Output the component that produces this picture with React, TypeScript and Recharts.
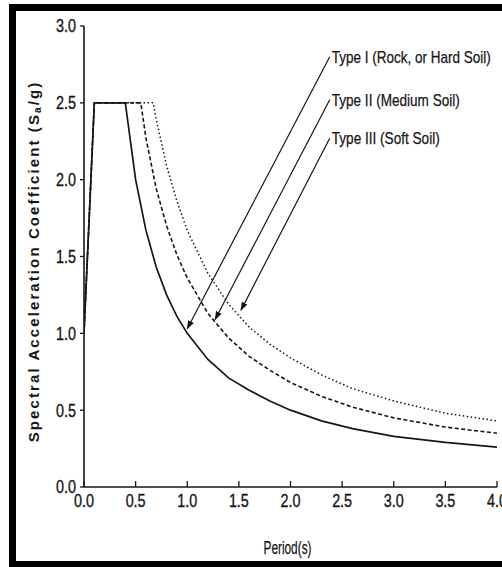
import React from 'react';
import { LineChart, Line, XAxis, YAxis, ReferenceLine, ReferenceDot } from 'recharts';

// Type I (Rock, or Hard Soil)
const typeIPeriod = [0, 0.1, 0.4, 0.5, 0.6, 0.7, 0.8, 0.9, 1.0, 1.2, 1.4, 1.6, 1.8, 2.0, 2.3, 2.6, 3.0, 3.5, 4.0];
const typeIValue = [1.0, 2.5, 2.5, 2.0, 1.67, 1.43, 1.25, 1.11, 1.0, 0.83, 0.71, 0.63, 0.56, 0.5, 0.43, 0.38, 0.33, 0.29, 0.26];
// Type II (Medium Soil)
const typeIIPeriod = [0, 0.1, 0.55, 0.6, 0.7, 0.8, 0.9, 1.0, 1.2, 1.4, 1.6, 1.8, 2.0, 2.3, 2.6, 3.0, 3.5, 4.0];
const typeIIValue = [1.0, 2.5, 2.5, 2.27, 1.94, 1.7, 1.51, 1.36, 1.13, 0.97, 0.85, 0.76, 0.68, 0.59, 0.52, 0.45, 0.39, 0.35];
// Type III (Soft Soil)
const typeIIIPeriod = [0, 0.1, 0.67, 0.7, 0.8, 0.9, 1.0, 1.2, 1.4, 1.6, 1.8, 2.0, 2.3, 2.6, 3.0, 3.5, 4.0];
const typeIIIValue = [1.0, 2.5, 2.5, 2.39, 2.09, 1.86, 1.67, 1.39, 1.19, 1.04, 0.93, 0.84, 0.73, 0.64, 0.56, 0.48, 0.43];

const xTicks = [0, 0.5, 1.0, 1.5, 2.0, 2.5, 3.0, 3.5, 4.0];
const yTicks = [0, 0.5, 1.0, 1.5, 2.0, 2.5, 3.0];

// Annotation labels and arrows (data coordinates)
const labelTexts = ['Type I  (Rock, or Hard Soil)', 'Type II (Medium Soil)', 'Type III (Soft Soil)'];
const labelX = [2.38, 2.38, 2.38];
const labelY = [2.8, 2.52, 2.27];
const arrowTipX = [1.0, 1.27, 1.52];
const arrowTipY = [1.03, 1.09, 1.15];

const toPts = (xs: number[], ys: number[]) => xs.map((x, i) => ({ t: x, v: ys[i] }));
const dataI = toPts(typeIPeriod, typeIValue);
const dataII = toPts(typeIIPeriod, typeIIValue);
const dataIII = toPts(typeIIIPeriod, typeIIIValue);

const FONT = '"Liberation Sans", Arial, sans-serif';
const INK = '#161616';
// condensed widths (styling) for the narrow typeface of the original
const labelWidths = [159, 128, 108];

const XTick = (props: any) => {
  const { x, y, payload } = props;
  return (
    <text x={x} y={y} dy="0.72em" textAnchor="middle" fontFamily={FONT} fontSize={18} fill={INK} stroke={INK} strokeWidth={0.35} textLength={20} lengthAdjust="spacingAndGlyphs">
      {Number(payload.value).toFixed(1)}
    </text>
  );
};

const YTick = (props: any) => {
  const { x, y, payload } = props;
  return (
    <text x={x - 20} y={y} dy="0.36em" textAnchor="start" fontFamily={FONT} fontSize={18} fill={INK} stroke={INK} strokeWidth={0.35} textLength={20} lengthAdjust="spacingAndGlyphs">
      {Number(payload.value).toFixed(1)}
    </text>
  );
};

const YLabel = (props: any) => {
  const vb = props.viewBox || {};
  const x = vb.x + 9;
  const y = vb.y + vb.height / 2 + 5;
  return (
    <text
      x={x}
      y={y}
      transform={`rotate(-90, ${x}, ${y})`}
      textAnchor="middle"
      dominantBaseline="central"
      fontFamily={FONT}
      fontWeight="bold"
      fontSize={15}
      letterSpacing={2.1}
      fill={INK}
    >
      Spectral Acceleration Coefficient (S
      <tspan fontSize={10} dy={4}>a</tspan>
      <tspan dy={-4}>/g)</tspan>
    </text>
  );
};

const XLabel = (props: any) => {
  const vb = props.viewBox || {};
  const x = vb.x + vb.width / 2 - 27;
  const y = 548;
  return (
    <text x={x} y={y} dominantBaseline="central" fontFamily={FONT} fontSize={18} fill={INK} stroke={INK} strokeWidth={0.25} textLength={48} lengthAdjust="spacingAndGlyphs">
      Period(s)
    </text>
  );
};

const makeNoteLabel = (i: number) => (p: any) => {
  const vb = p.viewBox || {};
  return (
    <text x={vb.x + 2} y={vb.y} dy="0.36em" fontFamily={FONT} fontSize={17} fill={INK} stroke={INK} strokeWidth={0.25} textLength={labelWidths[i]} lengthAdjust="spacingAndGlyphs">
      {labelTexts[i]}
    </text>
  );
};

export default function App() {
  return (
    <div style={{ position: 'fixed', left: 0, top: 0, width: 502, height: 567, overflow: 'hidden', background: '#fff' }}>
      <div style={{ position: 'absolute', left: 9, top: 4, width: 7, height: 563, background: '#000' }} />
      <div style={{ position: 'absolute', left: 9, top: 4, width: 493, height: 7, background: '#000' }} />
      <div style={{ position: 'absolute', left: 9, top: 561, width: 493, height: 6, background: '#000' }} />
      <div style={{ position: 'absolute', left: 0, top: 0 }}>
        <LineChart width={502} height={567} margin={{ top: 26, right: 5, bottom: 50, left: 24 }}>
          <defs>
            <marker id="arrowHead" viewBox="0 0 10 10" refX="9" refY="5" markerWidth="9" markerHeight="9" markerUnits="userSpaceOnUse" orient="auto">
              <path d="M0,1.5 L10,5 L0,8.5 Z" fill={INK} />
            </marker>
          </defs>
          <XAxis
            xAxisId="bottom"
            dataKey="t"
            type="number"
            domain={[0, 4]}
            ticks={xTicks}
            allowDataOverflow
            height={30}
            tickSize={-6}
            tickMargin={13}
            axisLine={{ stroke: INK, strokeWidth: 1.6 }}
            tickLine={{ stroke: INK, strokeWidth: 1.3 }}
            tick={<XTick />}
            label={<XLabel />}
          />
          <XAxis
            xAxisId="top"
            orientation="top"
            dataKey="t"
            type="number"
            domain={[0, 4]}
            ticks={xTicks}
            height={0}
            mirror
            tickSize={6}
            axisLine={{ stroke: INK, strokeWidth: 1.6 }}
            tickLine={{ stroke: INK, strokeWidth: 1.3 }}
            tick={{ fill: 'none', fontSize: 1 }}
          />
          <YAxis
            yAxisId="left"
            type="number"
            domain={[0, 3]}
            ticks={yTicks}
            width={60}
            tickSize={4}
            tickMargin={4}
            axisLine={{ stroke: INK, strokeWidth: 1.6 }}
            tickLine={{ stroke: INK, strokeWidth: 1.3 }}
            tick={<YTick />}
            label={<YLabel />}
          />
          <YAxis
            yAxisId="right"
            orientation="right"
            type="number"
            domain={[0, 3]}
            ticks={yTicks}
            width={0}
            mirror
            tickSize={6}
            axisLine={{ stroke: INK, strokeWidth: 1.6 }}
            tickLine={{ stroke: INK, strokeWidth: 1.3 }}
            tick={{ fill: 'none', fontSize: 1 }}
          />
          <Line
            xAxisId="bottom"
            yAxisId="left"
            data={dataIII}
            dataKey="v"
            type="linear"
            stroke={INK}
            strokeWidth={1.5}
            strokeDasharray="1.5 2.5"
            dot={false}
            isAnimationActive={false}
          />
          <Line
            xAxisId="bottom"
            yAxisId="left"
            data={dataII}
            dataKey="v"
            type="linear"
            stroke={INK}
            strokeWidth={1.6}
            strokeDasharray="4 2.5"
            dot={false}
            isAnimationActive={false}
          />
          <Line
            xAxisId="bottom"
            yAxisId="left"
            data={dataI}
            dataKey="v"
            type="linear"
            stroke={INK}
            strokeWidth={1.7}
            dot={false}
            isAnimationActive={false}
          />
          {labelTexts.map((txt, i) => (
            <ReferenceLine
              key={'arr' + i}
              xAxisId="bottom"
              yAxisId="left"
              segment={[
                { x: labelX[i], y: labelY[i] },
                { x: arrowTipX[i], y: arrowTipY[i] },
              ]}
              stroke={INK}
              strokeWidth={1.2}
              markerEnd="url(#arrowHead)"
              ifOverflow="visible"
            />
          ))}
          {labelTexts.map((txt, i) => (
            <ReferenceDot
              key={'lab' + i}
              xAxisId="bottom"
              yAxisId="left"
              x={labelX[i]}
              y={labelY[i]}
              r={0}
              fill="none"
              stroke="none"
              ifOverflow="visible"
              label={{ content: makeNoteLabel(i) }}
            />
          ))}
        </LineChart>
      </div>
    </div>
  );
}
